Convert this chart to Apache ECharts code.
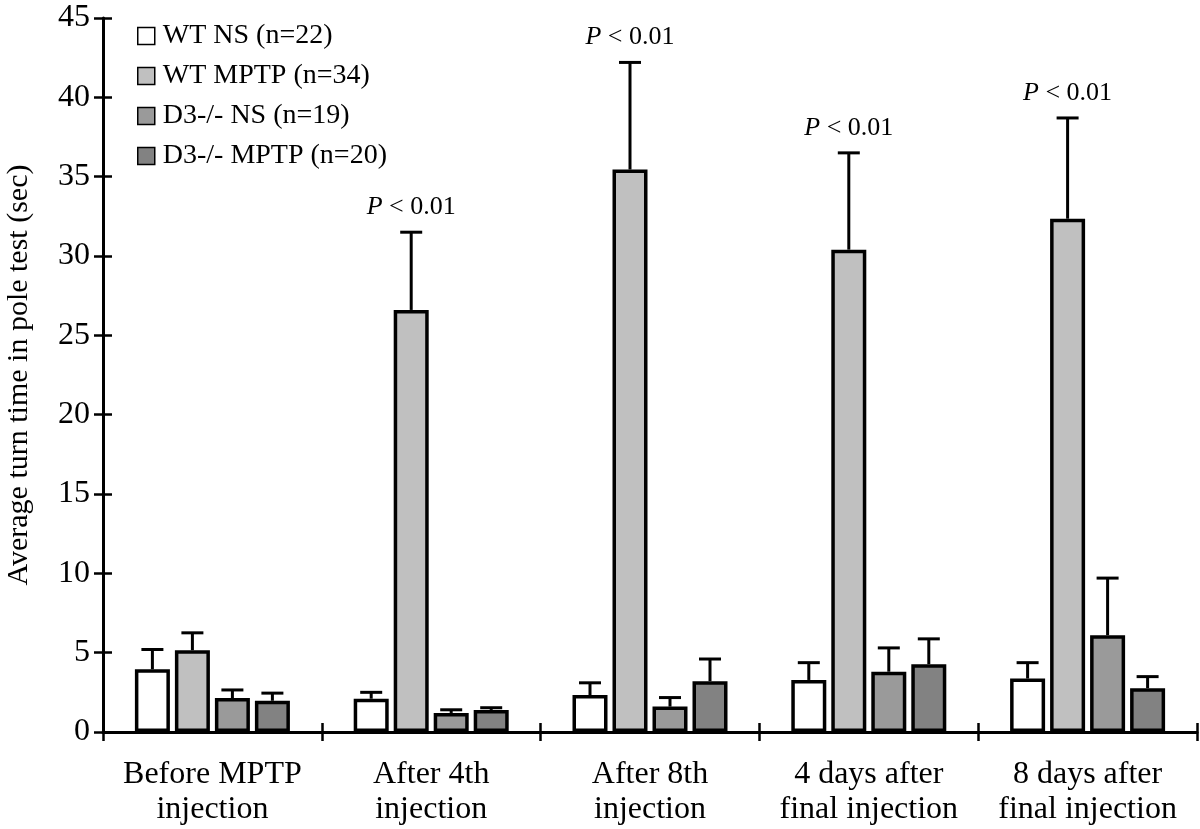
<!DOCTYPE html>
<html>
<head>
<meta charset="utf-8">
<script src="https://cdn.jsdelivr.net/npm/echarts@6/dist/echarts.min.js"></script>
<style>
  html, body { margin: 0; padding: 0; background: #fff; }
  #chart { width: 1200px; height: 829px; }
</style>
</head>
<body>
<div id="chart"></div>
<script>
// ---- data ----
const categories = ['Before MPTP\ninjection', 'After 4th\ninjection', 'After 8th\ninjection', '4 days after\nfinal injection', '8 days after\nfinal injection'];
const seriesNames = ['WT NS (n=22)', 'WT MPTP (n=34)', 'D3-/- NS (n=19)', 'D3-/- MPTP (n=20)'];
const wtNS      = [3.95, 2.1, 2.33, 3.28, 3.37];
const wtNSErr   = [5.2, 2.5, 3.1, 4.37, 4.37];
const wtMPTP    = [5.15, 26.6, 35.45, 30.4, 32.35];
const wtMPTPErr = [6.25, 31.5, 42.2, 36.5, 38.7];
const d3NS      = [2.14, 1.2, 1.6, 3.8, 6.1];
const d3NSErr   = [2.65, 1.4, 2.17, 5.3, 9.7];
const d3MPTP    = [1.97, 1.39, 3.2, 4.27, 2.76];
const d3MPTPErr = [2.45, 1.53, 4.6, 5.87, 3.49];
const pLabels   = ['', 'P < 0.01', 'P < 0.01', 'P < 0.01', 'P < 0.01'];
const yTicks    = [0, 5, 10, 15, 20, 25, 30, 35, 40, 45];

// ---- style ----
const FONT = '"Liberation Serif", "DejaVu Serif", serif';
const colors = ['#ffffff', '#c0c0c0', '#9a9a9a', '#828282'];
const BAR_W = 35, BAR_GAP = 5;
const means = [wtNS, wtMPTP, d3NS, d3MPTP];
const errs = [wtNSErr, wtMPTPErr, d3NSErr, d3MPTPErr];

const chart = echarts.init(document.getElementById('chart'), null, { renderer: 'canvas' });

function errSeries(idx) {
  const data = categories.map((c, i) => [i, means[idx][i], errs[idx][i]]);
  const off = (idx - 1.5) * (BAR_W + BAR_GAP);
  return {
    type: 'custom',
    name: seriesNames[idx] + ' err',
    xAxisIndex: 0, yAxisIndex: 0,
    z: 1,
    silent: true,
    data: data,
    renderItem: function (params, api) {
      const i = api.value(0);
      const p0 = api.coord([i, api.value(1)]);
      const p1 = api.coord([i, api.value(2)]);
      const x = p0[0] + off;
      const children = [
        { type: 'line', shape: { x1: x, y1: p0[1], x2: x, y2: p1[1] }, style: { stroke: '#000', lineWidth: 3 } },
        { type: 'line', shape: { x1: x - 11, y1: p1[1], x2: x + 11, y2: p1[1] }, style: { stroke: '#000', lineWidth: 3 } }
      ];
      if (idx === 1 && pLabels[i]) {
        const parts = pLabels[i].split(' ');
        children.push({
          type: 'text',
          x: x, y: p1[1] - 25,
          style: {
            text: '{i|' + parts[0] + '} ' + parts.slice(1).join(' '),
            rich: { i: { fontStyle: 'italic', fontFamily: FONT, fontSize: 26, fill: '#000' } },
            fontFamily: FONT, fontSize: 26, fill: '#000',
            align: 'center', verticalAlign: 'middle'
          }
        });
      }
      return { type: 'group', children: children };
    }
  };
}

const barSeries = seriesNames.map((n, k) => ({
  type: 'bar',
  name: n,
  data: means[k],
  xAxisIndex: 0, yAxisIndex: 0,
  barWidth: BAR_W,
  barGap: (BAR_GAP / BAR_W * 100) + '%',
  z: 3,
  itemStyle: { color: colors[k], borderColor: '#000', borderWidth: 3.5 },
  emphasis: { disabled: true }
}));

const option = {
  backgroundColor: '#fff',
  animation: false,
  textStyle: { fontFamily: FONT, color: '#000' },
  grid: { left: 103, right: 3, top: 18, bottom: 97, containLabel: false, outerBoundsMode: 'none' },
  legend: {
    data: seriesNames,
    orient: 'vertical',
    left: 132, top: 17,
    itemWidth: 17, itemHeight: 17,
    itemGap: 12,
    icon: 'rect',
    itemStyle: { borderColor: '#000', borderWidth: 1.5 },
    textStyle: { fontFamily: FONT, fontSize: 28, color: '#000', lineHeight: 28, padding: [0, 0, 0, 3] },
    selectedMode: false
  },
  xAxis: [
    {
      type: 'category', data: categories, boundaryGap: true,
      axisLine: { show: true, lineStyle: { color: '#000', width: 3 } },
      axisTick: { show: true, inside: false, length: 9, lineStyle: { color: '#000', width: 2.5 } },
      axisLabel: { color: '#000', fontFamily: FONT, fontSize: 32, lineHeight: 35, margin: 25, interval: 0 }
    },
    {
      type: 'category', data: categories, boundaryGap: true, position: 'bottom',
      axisLine: { show: false },
      axisTick: { show: true, inside: true, length: 9, lineStyle: { color: '#000', width: 2.5 } },
      axisLabel: { show: false }
    }
  ],
  yAxis: [
    {
      type: 'value', min: 0, max: 45, interval: 5,
      name: 'Average turn time in pole test (sec)',
      nameLocation: 'middle', nameGap: 69,
      nameTextStyle: { fontFamily: FONT, fontSize: 30, color: '#000' },
      axisLine: { show: true, lineStyle: { color: '#000', width: 3 } },
      axisTick: { show: true, inside: false, length: 9, lineStyle: { color: '#000', width: 2.5 } },
      axisLabel: {
        color: '#000', fontFamily: FONT, fontSize: 32, margin: 13,
        formatter: function (v) { return yTicks.indexOf(v) >= 0 ? String(v) : ''; }
      },
      splitLine: { show: false }
    },
    {
      type: 'value', min: 0, max: 45, interval: 5, position: 'left',
      axisLine: { show: false },
      axisTick: { show: true, inside: true, length: 9, lineStyle: { color: '#000', width: 2.5 } },
      axisLabel: { show: false },
      splitLine: { show: false }
    }
  ],
  series: [errSeries(0), errSeries(1), errSeries(2), errSeries(3)].concat(barSeries)
};

chart.setOption(option);
</script>
</body>
</html>
